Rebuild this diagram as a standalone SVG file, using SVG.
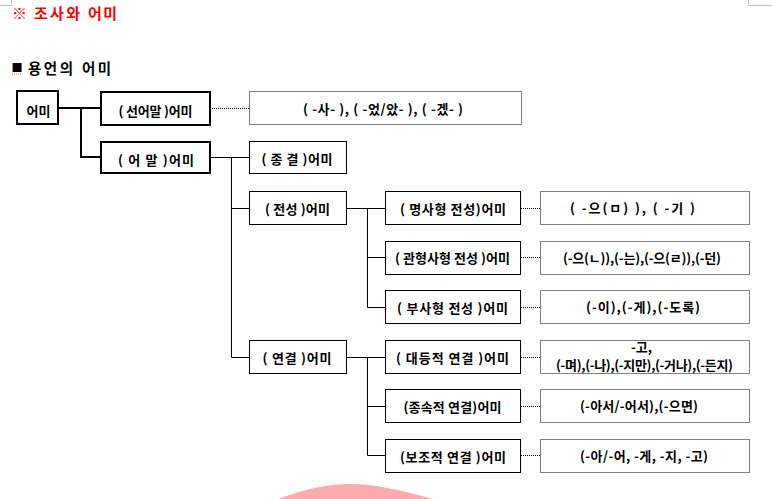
<svg xmlns="http://www.w3.org/2000/svg" width="772" height="499" viewBox="0 0 772 499">
<style>
text{font-family:"Noto Sans CJK KR","Liberation Sans",sans-serif;font-weight:bold;fill:#000}
.t{font-size:13px;text-anchor:middle}
.h{font-size:15px}
.thick{fill:#fff;stroke:#000;stroke-width:2}
.box{fill:#fff;stroke:#000;stroke-width:1}
.dot{fill:#fff;stroke:#000;stroke-width:1;stroke-dasharray:1 1}
.ln2{stroke:#000;stroke-width:2;fill:none}
.ln{stroke:#000;stroke-width:1;fill:none}
.dl{stroke:#000;stroke-width:1;stroke-dasharray:1 1;fill:none}
</style>
<rect width="772" height="499" fill="#fff"/>
<path d="M0 5.5H12M11.5 0V5.5M748.5 0V5.5H772" stroke="#c0c0c0" stroke-width="1" fill="none"/>
<path d="M278 499C305 489 328 484 350 484C374 484 400 490 433 499Z" fill="#ffa9b1"/>
<g id="title">
<text class="h" y="18.5" style="fill:#ff0000"><tspan x="12">※</tspan><tspan x="34" textLength="46">조사와</tspan><tspan x="88" textLength="29">어미</tspan></text>
</g>
<g id="subtitle">
<rect x="12" y="63" width="10" height="9" fill="#000"/>
<line x1="12.5" y1="63" x2="12.5" y2="72" stroke="#e08020"/>
<line x1="21.5" y1="63" x2="21.5" y2="72" stroke="#3070d0"/>
<line x1="12" y1="74" x2="22" y2="74" stroke="#f08000" stroke-dasharray="1 1"/>
<text class="h" y="73.5" style="font-size:14.5px"><tspan x="28" textLength="45">용언의</tspan><tspan x="82" textLength="29">어미</tspan></text>
</g>
<g id="connectors">
<path class="ln2" d="M59 108H101M81 108V157H101"/>
<path class="dl" d="M210 108.5H249"/>
<path class="ln" d="M210 157.5H249M231.5 157V357.5H249M231 208.5H249"/>
<path class="ln" d="M347 208.5H385M367.5 208V307.5H385M367 257.5H385"/>
<path class="ln" d="M347 357.5H385M367.5 357V455.5H385M367 406.5H385"/>
<path class="dl" d="M521 208.5H540M521 257.5H540M521 307.5H540M521 357.5H540M521 406.5H540M521 455.5H540"/>
</g>
<g id="n-eomi"><rect class="thick" x="17" y="91" width="41" height="33"/><text class="t" x="38.5" y="116" textLength="24">어미</text></g>
<g id="n-seoneomal"><rect class="thick" x="101" y="92" width="109" height="33"/><text class="t" x="155.5" y="116" textLength="74">( 선어말 )어미</text></g>
<g id="n-eomal"><rect class="thick" x="101" y="142" width="109" height="31"/><text class="t" x="156" y="164.5" textLength="76">( 어  말 )어미</text></g>
<g id="v-seoneomal"><rect class="dot" x="249.5" y="91.5" width="272" height="33"/><text class="t" x="383" y="113.5" textLength="160">( -사- ), ( -었/았- ), ( -겠- )</text></g>
<g id="n-jonggyeol"><rect class="box" x="249.5" y="141.5" width="97" height="32"/><text class="t" x="297" y="163.5" textLength="71">( 종 결 )어미</text></g>
<g id="n-jeonseong"><rect class="box" x="249.5" y="191.5" width="97" height="33"/><text class="t" x="297.5" y="213.5" textLength="65">( 전성 )어미</text></g>
<g id="n-yeongyeol"><rect class="box" x="249.5" y="340.5" width="97" height="33"/><text class="t" x="297" y="362.5" textLength="69">( 연결 )어미</text></g>
<g id="n-myeongsa"><rect class="box" x="385.5" y="191.5" width="135" height="33"/><text class="t" x="453" y="213.5" textLength="106">( 명사형 전성)어미</text></g>
<g id="n-gwanhyeong"><rect class="box" x="385.5" y="241.5" width="135" height="33"/><text class="t" x="452.5" y="263" textLength="115">( 관형사형 전성 )어미</text></g>
<g id="n-busa"><rect class="box" x="385.5" y="290.5" width="135" height="33"/><text class="t" x="452.5" y="312.5" textLength="111">( 부사형 전성 )어미</text></g>
<g id="n-daedeung"><rect class="box" x="385.5" y="340.5" width="135" height="33"/><text class="t" x="452.5" y="362.5" textLength="113">( 대등적 연결 )어미</text></g>
<g id="n-jongsok"><rect class="box" x="385.5" y="389.5" width="135" height="33"/><text class="t" x="452.5" y="411.5" textLength="98">(종속적 연결)어미</text></g>
<g id="n-bojo"><rect class="box" x="385.5" y="439.5" width="135" height="33"/><text class="t" x="453" y="461.5" textLength="106">(보조적 연결 )어미</text></g>
<g id="v-myeongsa"><rect class="dot" x="540.5" y="191.5" width="209" height="33"/><text class="t" x="632.5" y="212.5" textLength="125">( -으(ㅁ) ), ( -기 )</text></g>
<g id="v-gwanhyeong"><rect class="dot" x="540.5" y="241.5" width="209" height="33"/><text class="t" x="642" y="262.5" textLength="158">(-으(ㄴ)),(-는),(-으(ㄹ)),(-던)</text></g>
<g id="v-busa"><rect class="dot" x="540.5" y="290.5" width="209" height="33"/><text class="t" x="643" y="311.5" textLength="114">(-이),(-게),(-도록)</text></g>
<g id="v-daedeung"><rect class="dot" x="540.5" y="340.5" width="209" height="33"/><text class="t" x="641.5" y="352">-고,</text><text class="t" x="644.5" y="369.5" textLength="177">(-며),(-나),(-지만),(-거나),(-든지)</text></g>
<g id="v-jongsok"><rect class="dot" x="540.5" y="389.5" width="209" height="33"/><text class="t" x="639" y="410.5" textLength="118">(-아서/-어서),(-으면)</text></g>
<g id="v-bojo"><rect class="dot" x="540.5" y="439.5" width="209" height="33"/><text class="t" x="644" y="460.5" textLength="128">(-아/-어, -게, -지, -고)</text></g>
</svg>
